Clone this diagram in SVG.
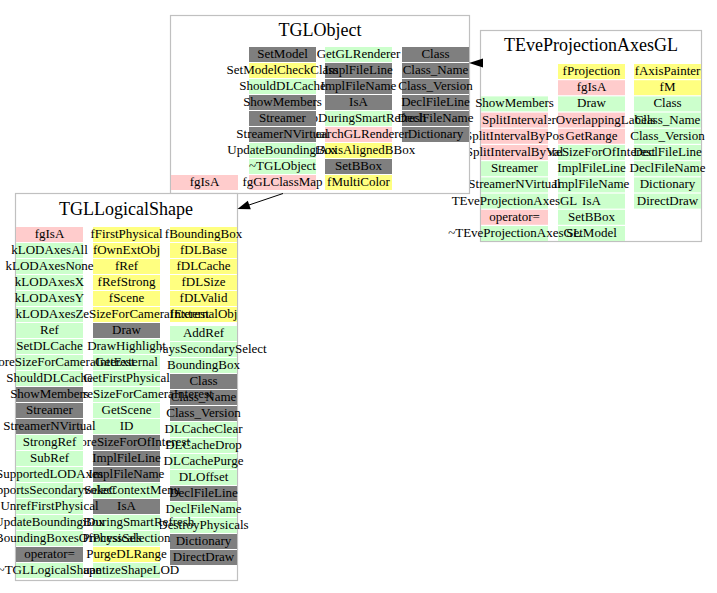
<svg xmlns="http://www.w3.org/2000/svg" width="717" height="593" viewBox="0 0 717 593">
<style>
.box{fill:#fff;stroke:#c0c0c0;stroke-width:1.2}
.ti{font-family:"Liberation Serif",serif;font-size:18px;text-anchor:middle;fill:#000}
.t{font-family:"Liberation Serif",serif;font-size:13px;text-anchor:middle;fill:#000}
.g{fill:#7f7f7f}.e{fill:#ccffcc}.y{fill:#ffff80}.p{fill:#ffcccc}
.edge{stroke:#000;stroke-width:1;fill:none}
</style>
<rect width="717" height="593" fill="#fff"/>
<g id="TEveProjectionAxesGL">
<rect class="box" x="480.5" y="30.5" width="221" height="211"/>
<text class="ti" x="591" y="51">TEveProjectionAxesGL</text>
<g>
<rect class="y" x="634" y="64" width="67" height="15"/><text class="t" x="667.5" y="75">fAxisPainter</text>
<rect class="y" x="634" y="80.2" width="67" height="15"/><text class="t" x="667.5" y="91.2">fM</text>
<rect class="e" x="634" y="96.4" width="67" height="15"/><text class="t" x="667.5" y="107.4">Class</text>
<rect class="e" x="634" y="112.6" width="67" height="15"/><text class="t" x="667.5" y="123.6">Class_Name</text>
<rect class="e" x="634" y="128.8" width="67" height="15"/><text class="t" x="667.5" y="139.8">Class_Version</text>
<rect class="e" x="634" y="145" width="67" height="15"/><text class="t" x="667.5" y="156">DeclFileLine</text>
<rect class="e" x="634" y="161.2" width="67" height="15"/><text class="t" x="667.5" y="172.2">DeclFileName</text>
<rect class="e" x="634" y="177.4" width="67" height="15"/><text class="t" x="667.5" y="188.4">Dictionary</text>
<rect class="e" x="634" y="193.6" width="67" height="15"/><text class="t" x="667.5" y="204.6">DirectDraw</text>
</g>
<g>
<rect class="y" x="558" y="64" width="67" height="15"/><text class="t" x="591.5" y="75">fProjection</text>
<rect class="p" x="558" y="80.2" width="67" height="15"/><text class="t" x="591.5" y="91.2">fgIsA</text>
<rect class="e" x="558" y="96.4" width="67" height="15"/><text class="t" x="591.5" y="107.4">Draw</text>
<rect class="p" x="558" y="112.6" width="67" height="15"/><text class="t" x="591.5" y="123.6">FilterOverlappingLabels</text>
<rect class="p" x="558" y="128.8" width="67" height="15"/><text class="t" x="591.5" y="139.8">GetRange</text>
<rect class="e" x="558" y="145" width="67" height="15"/><text class="t" x="591.5" y="156">IgnoreSizeForOfInterest</text>
<rect class="e" x="558" y="161.2" width="67" height="15"/><text class="t" x="591.5" y="172.2">ImplFileLine</text>
<rect class="e" x="558" y="177.4" width="67" height="15"/><text class="t" x="591.5" y="188.4">ImplFileName</text>
<rect class="e" x="558" y="193.6" width="67" height="15"/><text class="t" x="591.5" y="204.6">IsA</text>
<rect class="e" x="558" y="209.8" width="67" height="15"/><text class="t" x="591.5" y="220.8">SetBBox</text>
<rect class="e" x="558" y="226" width="67" height="15"/><text class="t" x="591.5" y="237">SetModel</text>
</g>
<g>
<rect class="e" x="481" y="96.4" width="67" height="15"/><text class="t" x="514.5" y="107.4">ShowMembers</text>
<rect class="p" x="481" y="112.6" width="67" height="15"/><text class="t" x="514.5" y="123.6">SplitInterval</text>
<rect class="p" x="481" y="128.8" width="67" height="15"/><text class="t" x="514.5" y="139.8">SplitIntervalByPos</text>
<rect class="p" x="481" y="145" width="67" height="15"/><text class="t" x="514.5" y="156">SplitIntervalByVal</text>
<rect class="e" x="481" y="161.2" width="67" height="15"/><text class="t" x="514.5" y="172.2">Streamer</text>
<rect class="e" x="481" y="177.4" width="67" height="15"/><text class="t" x="514.5" y="188.4">StreamerNVirtual</text>
<rect class="e" x="481" y="193.6" width="67" height="15"/><text class="t" x="514.5" y="204.6">TEveProjectionAxesGL</text>
<rect class="p" x="481" y="209.8" width="67" height="15"/><text class="t" x="514.5" y="220.8">operator=</text>
<rect class="e" x="481" y="226" width="67" height="15"/><text class="t" x="514.5" y="237">~TEveProjectionAxesGL</text>
</g>
</g>
<g id="TGLObject">
<rect class="box" x="170.5" y="15.5" width="299" height="178"/>
<text class="ti" x="320" y="36">TGLObject</text>
<g>
<rect class="g" x="402" y="47" width="67" height="15"/><text class="t" x="435.5" y="58">Class</text>
<rect class="g" x="402" y="63" width="67" height="15"/><text class="t" x="435.5" y="74">Class_Name</text>
<rect class="g" x="402" y="79" width="67" height="15"/><text class="t" x="435.5" y="90">Class_Version</text>
<rect class="g" x="402" y="95" width="67" height="15"/><text class="t" x="435.5" y="106">DeclFileLine</text>
<rect class="g" x="402" y="111" width="67" height="15"/><text class="t" x="435.5" y="122">DeclFileName</text>
<rect class="g" x="402" y="127" width="67" height="15"/><text class="t" x="435.5" y="138">Dictionary</text>
</g>
<g>
<rect class="e" x="325" y="47" width="67" height="15"/><text class="t" x="358.5" y="58">GetGLRenderer</text>
<rect class="g" x="325" y="63" width="67" height="15"/><text class="t" x="358.5" y="74">ImplFileLine</text>
<rect class="g" x="325" y="79" width="67" height="15"/><text class="t" x="358.5" y="90">ImplFileName</text>
<rect class="g" x="325" y="95" width="67" height="15"/><text class="t" x="358.5" y="106">IsA</text>
<rect class="e" x="325" y="111" width="67" height="15"/><text class="t" x="358.5" y="122">KeepDuringSmartRefresh</text>
<rect class="p" x="325" y="127" width="67" height="15"/><text class="t" x="358.5" y="138">SearchGLRenderer</text>
<rect class="y" x="325" y="143" width="67" height="15"/><text class="t" x="358.5" y="154">SetAxisAlignedBBox</text>
<rect class="g" x="325" y="159" width="67" height="15"/><text class="t" x="358.5" y="170">SetBBox</text>
<rect class="y" x="325" y="175" width="67" height="15"/><text class="t" x="358.5" y="186">fMultiColor</text>
</g>
<g>
<rect class="g" x="249" y="47" width="67" height="15"/><text class="t" x="282.5" y="58">SetModel</text>
<rect class="y" x="249" y="63" width="67" height="15"/><text class="t" x="282.5" y="74">SetModelCheckClass</text>
<rect class="e" x="249" y="79" width="67" height="15"/><text class="t" x="282.5" y="90">ShouldDLCache</text>
<rect class="g" x="249" y="95" width="67" height="15"/><text class="t" x="282.5" y="106">ShowMembers</text>
<rect class="g" x="249" y="111" width="67" height="15"/><text class="t" x="282.5" y="122">Streamer</text>
<rect class="g" x="249" y="127" width="67" height="15"/><text class="t" x="282.5" y="138">StreamerNVirtual</text>
<rect class="e" x="249" y="143" width="67" height="15"/><text class="t" x="282.5" y="154">UpdateBoundingBox</text>
<rect class="e" x="249" y="159" width="67" height="15"/><text class="t" x="282.5" y="170">~TGLObject</text>
<rect class="p" x="249" y="175" width="67" height="15"/><text class="t" x="282.5" y="186">fgGLClassMap</text>
</g>
<g>
<rect class="p" x="171" y="175" width="67" height="15"/><text class="t" x="204.5" y="186">fgIsA</text>
</g>
</g>
<g id="TGLLogicalShape">
<rect class="box" x="15.5" y="193.5" width="222" height="387"/>
<text class="ti" x="126" y="215">TGLLogicalShape</text>
<g>
<rect class="y" x="170" y="227" width="67" height="15"/><text class="t" x="203.5" y="238">fBoundingBox</text>
<rect class="y" x="170" y="243" width="67" height="15"/><text class="t" x="203.5" y="254">fDLBase</text>
<rect class="y" x="170" y="259" width="67" height="15"/><text class="t" x="203.5" y="270">fDLCache</text>
<rect class="y" x="170" y="275" width="67" height="15"/><text class="t" x="203.5" y="286">fDLSize</text>
<rect class="y" x="170" y="291" width="67" height="15"/><text class="t" x="203.5" y="302">fDLValid</text>
<rect class="y" x="170" y="307" width="67" height="15"/><text class="t" x="203.5" y="318">fExternalObj</text>
<rect class="e" x="170" y="326" width="67" height="15"/><text class="t" x="203.5" y="337">AddRef</text>
<rect class="e" x="170" y="342" width="67" height="15"/><text class="t" x="203.5" y="353">AlwaysSecondarySelect</text>
<rect class="e" x="170" y="358" width="67" height="15"/><text class="t" x="203.5" y="369">BoundingBox</text>
<rect class="g" x="170" y="374" width="67" height="15"/><text class="t" x="203.5" y="385">Class</text>
<rect class="g" x="170" y="390" width="67" height="15"/><text class="t" x="203.5" y="401">Class_Name</text>
<rect class="g" x="170" y="406" width="67" height="15"/><text class="t" x="203.5" y="417">Class_Version</text>
<rect class="e" x="170" y="422" width="67" height="15"/><text class="t" x="203.5" y="433">DLCacheClear</text>
<rect class="e" x="170" y="438" width="67" height="15"/><text class="t" x="203.5" y="449">DLCacheDrop</text>
<rect class="e" x="170" y="454" width="67" height="15"/><text class="t" x="203.5" y="465">DLCachePurge</text>
<rect class="e" x="170" y="470" width="67" height="15"/><text class="t" x="203.5" y="481">DLOffset</text>
<rect class="g" x="170" y="486" width="67" height="15"/><text class="t" x="203.5" y="497">DeclFileLine</text>
<rect class="e" x="170" y="502" width="67" height="15"/><text class="t" x="203.5" y="513">DeclFileName</text>
<rect class="e" x="170" y="518" width="67" height="15"/><text class="t" x="203.5" y="529">DestroyPhysicals</text>
<rect class="g" x="170" y="534" width="67" height="15"/><text class="t" x="203.5" y="545">Dictionary</text>
<rect class="g" x="170" y="550" width="67" height="15"/><text class="t" x="203.5" y="561">DirectDraw</text>
</g>
<g>
<rect class="y" x="93" y="227" width="67" height="15"/><text class="t" x="126.5" y="238">fFirstPhysical</text>
<rect class="y" x="93" y="243" width="67" height="15"/><text class="t" x="126.5" y="254">fOwnExtObj</text>
<rect class="y" x="93" y="259" width="67" height="15"/><text class="t" x="126.5" y="270">fRef</text>
<rect class="y" x="93" y="275" width="67" height="15"/><text class="t" x="126.5" y="286">fRefStrong</text>
<rect class="y" x="93" y="291" width="67" height="15"/><text class="t" x="126.5" y="302">fScene</text>
<rect class="y" x="93" y="307" width="67" height="15"/><text class="t" x="126.5" y="318">fgIgnoreSizeForCameraInterest</text>
<rect class="g" x="93" y="323" width="67" height="15"/><text class="t" x="126.5" y="334">Draw</text>
<rect class="e" x="93" y="339" width="67" height="15"/><text class="t" x="126.5" y="350">DrawHighlight</text>
<rect class="e" x="93" y="355" width="67" height="15"/><text class="t" x="126.5" y="366">GetExternal</text>
<rect class="e" x="93" y="371" width="67" height="15"/><text class="t" x="126.5" y="382">GetFirstPhysical</text>
<rect class="e" x="93" y="387" width="67" height="15"/><text class="t" x="126.5" y="398">GetIgnoreSizeForCameraInterest</text>
<rect class="e" x="93" y="403" width="67" height="15"/><text class="t" x="126.5" y="414">GetScene</text>
<rect class="e" x="93" y="419" width="67" height="15"/><text class="t" x="126.5" y="430">ID</text>
<rect class="g" x="93" y="435" width="67" height="15"/><text class="t" x="126.5" y="446">IgnoreSizeForOfInterest</text>
<rect class="g" x="93" y="451" width="67" height="15"/><text class="t" x="126.5" y="462">ImplFileLine</text>
<rect class="g" x="93" y="467" width="67" height="15"/><text class="t" x="126.5" y="478">ImplFileName</text>
<rect class="e" x="93" y="483" width="67" height="15"/><text class="t" x="126.5" y="494">InvokeContextMenu</text>
<rect class="g" x="93" y="499" width="67" height="15"/><text class="t" x="126.5" y="510">IsA</text>
<rect class="e" x="93" y="515" width="67" height="15"/><text class="t" x="126.5" y="526">KeepDuringSmartRefresh</text>
<rect class="e" x="93" y="531" width="67" height="15"/><text class="t" x="126.5" y="542">ProcessSelection</text>
<rect class="y" x="93" y="547" width="67" height="15"/><text class="t" x="126.5" y="558">PurgeDLRange</text>
<rect class="e" x="93" y="563" width="67" height="15"/><text class="t" x="126.5" y="574">QuantizeShapeLOD</text>
</g>
<g>
<rect class="p" x="16" y="227" width="67" height="15"/><text class="t" x="49.5" y="238">fgIsA</text>
<rect class="e" x="16" y="243" width="67" height="15"/><text class="t" x="49.5" y="254">kLODAxesAll</text>
<rect class="e" x="16" y="259" width="67" height="15"/><text class="t" x="49.5" y="270">kLODAxesNone</text>
<rect class="e" x="16" y="275" width="67" height="15"/><text class="t" x="49.5" y="286">kLODAxesX</text>
<rect class="e" x="16" y="291" width="67" height="15"/><text class="t" x="49.5" y="302">kLODAxesY</text>
<rect class="e" x="16" y="307" width="67" height="15"/><text class="t" x="49.5" y="318">kLODAxesZ</text>
<rect class="e" x="16" y="323" width="67" height="15"/><text class="t" x="49.5" y="334">Ref</text>
<rect class="e" x="16" y="339" width="67" height="15"/><text class="t" x="49.5" y="350">SetDLCache</text>
<rect class="e" x="16" y="355" width="67" height="15"/><text class="t" x="49.5" y="366">SetIgnoreSizeForCameraInterest</text>
<rect class="e" x="16" y="371" width="67" height="15"/><text class="t" x="49.5" y="382">ShouldDLCache</text>
<rect class="g" x="16" y="387" width="67" height="15"/><text class="t" x="49.5" y="398">ShowMembers</text>
<rect class="g" x="16" y="403" width="67" height="15"/><text class="t" x="49.5" y="414">Streamer</text>
<rect class="g" x="16" y="419" width="67" height="15"/><text class="t" x="49.5" y="430">StreamerNVirtual</text>
<rect class="e" x="16" y="435" width="67" height="15"/><text class="t" x="49.5" y="446">StrongRef</text>
<rect class="e" x="16" y="451" width="67" height="15"/><text class="t" x="49.5" y="462">SubRef</text>
<rect class="e" x="16" y="467" width="67" height="15"/><text class="t" x="49.5" y="478">SupportedLODAxes</text>
<rect class="e" x="16" y="483" width="67" height="15"/><text class="t" x="49.5" y="494">SupportsSecondarySelect</text>
<rect class="e" x="16" y="499" width="67" height="15"/><text class="t" x="49.5" y="510">UnrefFirstPhysical</text>
<rect class="e" x="16" y="515" width="67" height="15"/><text class="t" x="49.5" y="526">UpdateBoundingBox</text>
<rect class="e" x="16" y="531" width="67" height="15"/><text class="t" x="49.5" y="542">UpdateBoundingBoxesOfPhysicals</text>
<rect class="g" x="16" y="547" width="67" height="15"/><text class="t" x="49.5" y="558">operator=</text>
<rect class="e" x="16" y="563" width="67" height="15"/><text class="t" x="49.5" y="574">~TGLLogicalShape</text>
</g>
</g>
<g id="connectors">
<path class="edge" d="M481,63 L482,63"/>
<polygon points="469,63 483,58.5 483,67.5" fill="#000"/>
<path class="edge" d="M283,193.5 L249,205"/>
<polygon points="237.5,209 250.8,209.3 247.8,200.7" fill="#000"/>
</g>
</svg>
